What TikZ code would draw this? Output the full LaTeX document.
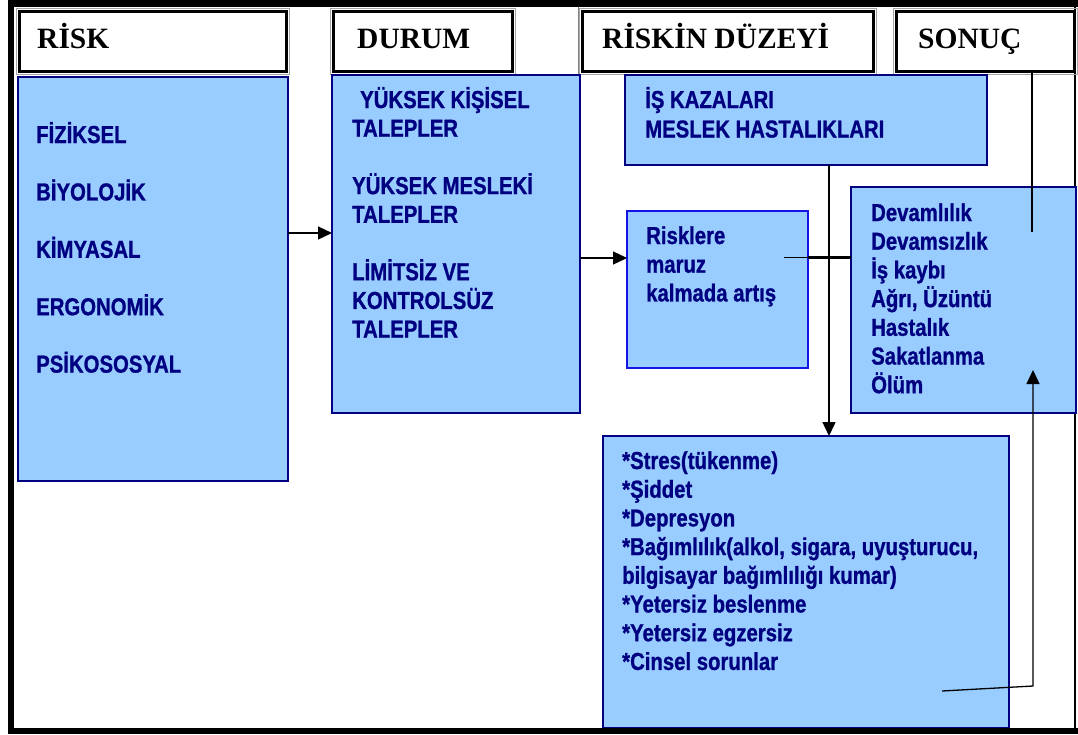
\documentclass[tikz,border=0pt]{standalone}
\usepackage{fontspec}
\setmainfont{Liberation Serif}
\newfontfamily\boxfont[FakeStretch=0.83,BoldFeatures={FakeBold=0.9}]{Liberation Sans}
\usetikzlibrary{arrows.meta}
\definecolor{boxblue}{HTML}{99CCFF}
\definecolor{navy}{HTML}{000080}
\definecolor{brightblue}{HTML}{1414E6}
\newcommand{\boxtext}[2]{\parbox[t]{#1}{\raggedright #2}}
\begin{document}
\begin{tikzpicture}[x=1pt,y=-1pt,
  bluebox/.style={draw=navy, fill=boxblue, line width=1.5pt, inner sep=0pt, outer sep=0pt, anchor=north west},
  hdrbox/.style={draw=black, fill=white, line width=3pt, inner sep=0pt, outer sep=0pt, anchor=north west},
  hdrshadow/.style={draw=gray!70, line width=0.7pt},
  hdrtxt/.style={font=\bfseries\fontsize{29.5}{35}\selectfont, inner sep=0pt, anchor=base west},
  boxtxt/.style={font=\boxfont\bfseries\fontsize{24.5}{28.7}\selectfont, text=navy, inner sep=0pt, anchor=base west},
  conn/.style={line width=1.3pt},
  arr/.style={conn, -{Triangle[length=14pt,width=13pt]}},
]
\useasboundingbox (0,0) rectangle (1078,734);
\fill[white] (0,0) rectangle (1078,734);
% thin right frame line and table cell line
\draw[line width=1.5pt] (1075,0) -- (1075,734);
\draw[gray, line width=0.8pt] (578,7) -- (578,75);

% header boxes
\node[hdrbox, minimum width=267pt, minimum height=60pt] (riskhdr) at (19.5,11.5) {};
\node[hdrbox, minimum width=178.5pt, minimum height=60pt] (durumhdr) at (333.5,11.5) {};
\node[hdrbox, minimum width=291pt, minimum height=60pt] (duzeyhdr) at (582.5,11.5) {};
\node[hdrbox, minimum width=178pt, minimum height=60pt] (sonuchdr) at (896.5,11.5) {};
\foreach \b in {riskhdr,durumhdr,duzeyhdr,sonuchdr}{
  \draw[hdrshadow] ([shift={(-3,-3)}]\b.north west) rectangle ([shift={(3,3)}]\b.south east);
}
\node[hdrtxt] (risklbl) at (37,48) {RİSK};
\node[hdrtxt] (durumlbl) at (357,48) {DURUM};
\node[hdrtxt] (duzeylbl) at (602,48) {RİSKİN DÜZEYİ};
\node[hdrtxt] (sonuclbl) at (918,48) {SONUÇ};

% blue boxes
\node[bluebox, minimum width=270pt, minimum height=404pt] (riskbox) at (18,77) {};
\node[bluebox, minimum width=248pt, minimum height=338pt] (durumbox) at (332,75) {};
\node[bluebox, minimum width=362pt, minimum height=90pt] (iskbox) at (625,75) {};
\node[bluebox, draw=brightblue, minimum width=181pt, minimum height=157pt] (maruzbox) at (627,211) {};
\node[bluebox, minimum width=225pt, minimum height=226pt] (sonucbox) at (851,187) {};
\node[bluebox, minimum width=406pt, minimum height=292pt] (etkibox) at (603,436) {};

% box texts
\node[boxtxt] (risktxt) at (36,143) {\boxtext{240pt}{FİZİKSEL\\[28.7pt] BİYOLOJİK\\[28.7pt] KİMYASAL\\[28.7pt] ERGONOMİK\\[28.7pt] PSİKOSOSYAL}};
\node[boxtxt] (durumtxt) at (352,108) {\boxtext{225pt}{\hspace*{8pt}YÜKSEK KİŞİSEL\\ TALEPLER\\[28.7pt] YÜKSEK MESLEKİ\\ TALEPLER\\[28.7pt] LİMİTSİZ VE\\ KONTROLSÜZ\\ TALEPLER}};
\node[boxtxt, font=\boxfont\bfseries\fontsize{24.5}{29.5}\selectfont] (isktxt) at (645,108) {\boxtext{330pt}{İŞ KAZALARI\\ MESLEK HASTALIKLARI}};
\node[boxtxt] (maruztxt) at (646,244) {\boxtext{160pt}{Risklere\\ maruz\\ kalmada artış}};
\node[boxtxt] (sonuctxt) at (871,221) {\boxtext{150pt}{Devamlılık\\ Devamsızlık\\ İş kaybı\\ Ağrı, Üzüntü\\ Hastalık\\ Sakatlanma\\ Ölüm}};
\node[boxtxt] (etkitxt) at (622,469) {\boxtext{380pt}{{*}Stres(tükenme)\\ {*}Şiddet\\ {*}Depresyon\\ {*}Bağımlılık(alkol, sigara, uyuşturucu,\\ bilgisayar bağımlılığı kumar)\\ {*}Yetersiz beslenme\\ {*}Yetersiz egzersiz\\ {*}Cinsel sorunlar}};

% connectors
\coordinate (a1) at (0,233);
\coordinate (a2) at (0,258);
\coordinate (dx) at (829,0);
\coordinate (m1) at (784,257.5);
\coordinate (s1) at (1032,232);
\coordinate (r1) at (942,691);
\coordinate (r2) at (1033,686);
\coordinate (r3) at (1033,370);
\draw[arr] (riskbox.east |- a1) -- (durumbox.west |- a1);
\draw[arr] (durumbox.east |- a2) -- (maruzbox.west |- a2);
\draw[arr, line width=1.5pt] (iskbox.south -| dx) -- (etkibox.north -| dx);
\draw[conn] (m1) -- (maruzbox.east |- m1);
\draw[line width=2.8pt] (maruzbox.east |- m1) -- (sonucbox.west |- m1);
\draw[line width=2.7pt] (sonuchdr.south -| s1) -- (s1);
\draw[arr] (r1) -- (r2) -- (r3);

% outer frame
\draw[line width=6.5pt] (1078,3.25) -- (11,3.25) -- (11,731) -- (1078,731);
\end{tikzpicture}
\end{document}
